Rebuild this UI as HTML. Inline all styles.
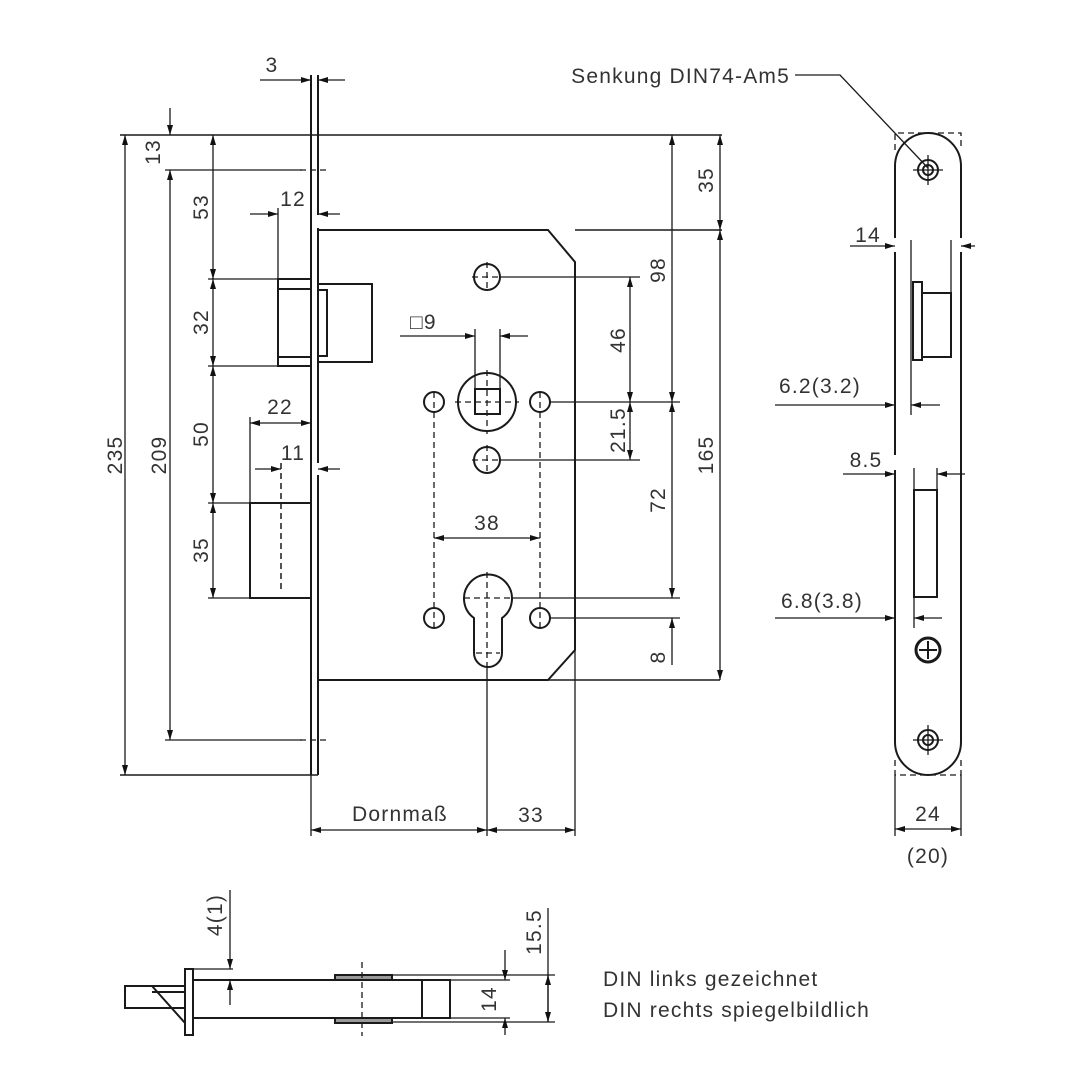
<!DOCTYPE html>
<html><head><meta charset="utf-8"><style>
html,body{margin:0;padding:0;background:#fff}
svg{display:block}
text{font-family:"Liberation Sans",sans-serif;fill:#333;font-size:21px;letter-spacing:1.2px}
</style></head><body>
<svg width="1080" height="1080" viewBox="0 0 1080 1080" xmlns="http://www.w3.org/2000/svg">
<defs>
<marker id="a" viewBox="0 0 10 6" refX="10" refY="3" markerWidth="10" markerHeight="6" markerUnits="userSpaceOnUse" orient="auto-start-reverse"><path d="M0,0L10,3L0,6z" fill="#111"/></marker>
</defs>
<g stroke="#1a1a1a" fill="none" stroke-width="2">
<line x1="311" y1="75" x2="311" y2="775"/>
<line x1="318" y1="75" x2="318" y2="215"/>
<line x1="318" y1="228" x2="318" y2="463"/>
<line x1="318" y1="475" x2="318" y2="775"/>
<line x1="120" y1="135" x2="722" y2="135" stroke-width="1.5"/>
<line x1="120" y1="775" x2="318" y2="775" stroke-width="1.5"/>
<path d="M318,230 H548 L575,262 V650 L548,680 H318"/>
<line x1="548" y1="680" x2="720" y2="680" stroke-width="1.5"/>
<line x1="575" y1="230" x2="722" y2="230" stroke-width="1.5"/>
<rect x="278" y="279" width="33" height="87"/>
<line x1="278" y1="289" x2="311" y2="289"/>
<line x1="278" y1="357" x2="311" y2="357"/>
<rect x="318" y="284" width="54" height="78"/>
<rect x="318" y="290" width="9" height="66"/>
<rect x="250" y="503" width="61" height="95"/>
<line x1="281" y1="463" x2="281" y2="593" stroke-dasharray="6,4" stroke-width="1.5"/>
<circle cx="487" cy="277" r="13"/>
<circle cx="487" cy="402" r="29"/>
<rect x="475" y="389" width="25" height="25"/>
<circle cx="434" cy="402" r="10"/>
<circle cx="540" cy="402" r="10"/>
<circle cx="487" cy="460" r="13"/>
<circle cx="434" cy="618" r="10"/>
<circle cx="540" cy="618" r="10"/>
<path d="M474,618 A24,24 0 1 1 502,618 V653 A14,14 0 0 1 474,653 Z"/>
</g>
<g stroke="#1a1a1a" fill="none" stroke-width="1.3" stroke-dasharray="6,4">
<line x1="487" y1="262" x2="487" y2="292"/><line x1="472" y1="277" x2="502" y2="277"/>
<line x1="487" y1="370" x2="487" y2="434"/><line x1="455" y1="402" x2="519" y2="402"/>
<line x1="487" y1="445" x2="487" y2="475"/><line x1="472" y1="460" x2="502" y2="460"/>
<line x1="434" y1="392" x2="434" y2="630"/><line x1="540" y1="392" x2="540" y2="630"/>
<line x1="487" y1="572" x2="487" y2="667"/><line x1="464" y1="598" x2="512" y2="598"/>
<line x1="476" y1="653" x2="500" y2="653"/>
<line x1="300" y1="170" x2="330" y2="170"/><line x1="300" y1="740" x2="330" y2="740"/>
</g>
<g stroke="#1a1a1a" fill="none" stroke-width="1.3">
<line x1="125" y1="135" x2="125" y2="775" marker-start="url(#a)" marker-end="url(#a)"/>
<line x1="170" y1="108" x2="170" y2="135" marker-end="url(#a)"/>
<line x1="170" y1="170" x2="170" y2="740" marker-start="url(#a)" marker-end="url(#a)"/>
<line x1="165" y1="170" x2="302" y2="170"/><line x1="165" y1="740" x2="302" y2="740"/>
<line x1="213" y1="135" x2="213" y2="279" marker-start="url(#a)" marker-end="url(#a)"/>
<line x1="213" y1="279" x2="213" y2="366" marker-start="url(#a)" marker-end="url(#a)"/>
<line x1="213" y1="366" x2="213" y2="503" marker-start="url(#a)" marker-end="url(#a)"/>
<line x1="213" y1="503" x2="213" y2="598" marker-start="url(#a)" marker-end="url(#a)"/>
<line x1="208" y1="279" x2="278" y2="279"/><line x1="208" y1="366" x2="278" y2="366"/>
<line x1="208" y1="503" x2="250" y2="503"/><line x1="208" y1="598" x2="250" y2="598"/>
<line x1="260" y1="80" x2="311" y2="80" marker-end="url(#a)"/><line x1="345" y1="80" x2="318" y2="80" marker-end="url(#a)"/>
<line x1="278" y1="208" x2="278" y2="279"/>
<line x1="250" y1="214" x2="278" y2="214" marker-end="url(#a)"/><line x1="340" y1="214" x2="318" y2="214" marker-end="url(#a)"/>
<line x1="250" y1="417" x2="250" y2="503"/>
<line x1="250" y1="423" x2="311" y2="423" marker-start="url(#a)" marker-end="url(#a)"/>
<line x1="255" y1="469" x2="281" y2="469" marker-end="url(#a)"/><line x1="340" y1="469" x2="318" y2="469" marker-end="url(#a)"/>
<line x1="475" y1="329" x2="475" y2="389"/><line x1="500" y1="329" x2="500" y2="389"/>
<line x1="400" y1="336" x2="475" y2="336" marker-end="url(#a)"/><line x1="528" y1="336" x2="500" y2="336" marker-end="url(#a)"/>
<line x1="434" y1="538" x2="540" y2="538" marker-start="url(#a)" marker-end="url(#a)"/>
<line x1="311" y1="775" x2="311" y2="836"/><line x1="487" y1="667" x2="487" y2="836"/><line x1="575" y1="650" x2="575" y2="836"/>
<line x1="311" y1="830" x2="487" y2="830" marker-start="url(#a)" marker-end="url(#a)"/>
<line x1="487" y1="830" x2="575" y2="830" marker-start="url(#a)" marker-end="url(#a)"/>
<line x1="500" y1="277" x2="640" y2="277"/>
<line x1="550" y1="402" x2="680" y2="402"/>
<line x1="500" y1="460" x2="640" y2="460"/>
<line x1="512" y1="598" x2="680" y2="598"/>
<line x1="550" y1="618" x2="680" y2="618"/>
<line x1="630" y1="277" x2="630" y2="402" marker-start="url(#a)" marker-end="url(#a)"/>
<line x1="630" y1="402" x2="630" y2="460" marker-start="url(#a)" marker-end="url(#a)"/>
<line x1="672" y1="135" x2="672" y2="402" marker-start="url(#a)" marker-end="url(#a)"/>
<line x1="672" y1="402" x2="672" y2="598" marker-start="url(#a)" marker-end="url(#a)"/>
<line x1="672" y1="665" x2="672" y2="618" marker-end="url(#a)"/>
<line x1="720" y1="135" x2="720" y2="230" marker-start="url(#a)" marker-end="url(#a)"/>
<line x1="720" y1="230" x2="720" y2="680" marker-start="url(#a)" marker-end="url(#a)"/>
</g>
<g stroke="#1a1a1a" fill="none" stroke-width="2">
<path d="M895,238 V166 A33,33 0 0 1 961,166 V238"/>
<line x1="895" y1="252" x2="895" y2="455"/>
<line x1="961" y1="252" x2="961" y2="742"/>
<path d="M895,470 V742 A33,33 0 0 0 961,742"/>
<rect x="913" y="282" width="9" height="78"/>
<rect x="922" y="293" width="29" height="64"/>
<rect x="914" y="490" width="23" height="107"/>
<circle cx="928" cy="170" r="10"/><circle cx="928" cy="170" r="5"/>
<circle cx="928" cy="740" r="10"/><circle cx="928" cy="740" r="5"/>
<circle cx="928" cy="650" r="12" stroke-width="3"/>
</g>
<g stroke="#1a1a1a" fill="none" stroke-width="1.3">
<path d="M895,150 V133 H961 V150" stroke-dasharray="6,4"/>
<path d="M895,760 V775 H961 V760" stroke-dasharray="6,4"/>
<line x1="913" y1="170" x2="943" y2="170"/><line x1="928" y1="155" x2="928" y2="185"/>
<line x1="913" y1="740" x2="943" y2="740"/><line x1="928" y1="725" x2="928" y2="755"/>
<line x1="919" y1="650" x2="937" y2="650" stroke-width="2"/><line x1="928" y1="641" x2="928" y2="659" stroke-width="2"/>
<path d="M795,75 H840 L928,168"/>
<line x1="911" y1="240" x2="911" y2="415"/><line x1="951" y1="240" x2="951" y2="293"/>
<line x1="850" y1="246" x2="895" y2="246" marker-end="url(#a)"/><line x1="975" y1="246" x2="961" y2="246" marker-end="url(#a)"/>
<line x1="775" y1="405" x2="895" y2="405" marker-end="url(#a)"/><line x1="940" y1="405" x2="911" y2="405" marker-end="url(#a)"/>
<line x1="914" y1="468" x2="914" y2="628"/><line x1="937" y1="468" x2="937" y2="490"/>
<line x1="843" y1="474" x2="895" y2="474" marker-end="url(#a)"/><line x1="965" y1="474" x2="937" y2="474" marker-end="url(#a)"/>
<line x1="775" y1="618" x2="895" y2="618" marker-end="url(#a)"/><line x1="942" y1="618" x2="914" y2="618" marker-end="url(#a)"/>
<line x1="895" y1="775" x2="895" y2="836"/><line x1="961" y1="775" x2="961" y2="836"/>
<line x1="895" y1="829" x2="961" y2="829" marker-start="url(#a)" marker-end="url(#a)"/>
</g>
<g stroke="#1a1a1a" fill="none" stroke-width="2">
<rect x="185" y="969" width="8" height="66"/>
<rect x="125" y="986" width="60" height="22"/>
<line x1="152" y1="986" x2="185" y2="986"/><line x1="152" y1="992" x2="185" y2="992"/>
<line x1="152" y1="986" x2="185" y2="1023"/>
<line x1="193" y1="980" x2="450" y2="980"/><line x1="193" y1="1018" x2="450" y2="1018"/>
<rect x="335" y="975" width="57" height="5" fill="#999"/>
<rect x="335" y="1018" width="57" height="5" fill="#999"/>
<rect x="422" y="980" width="28" height="38"/>
</g>
<g stroke="#1a1a1a" fill="none" stroke-width="1.3">
<line x1="362" y1="962" x2="362" y2="1036" stroke-dasharray="6,4"/>
<line x1="193" y1="969" x2="233" y2="969"/>
<line x1="230" y1="890" x2="230" y2="969" marker-end="url(#a)"/>
<line x1="230" y1="1005" x2="230" y2="980" marker-end="url(#a)"/>
<line x1="392" y1="975" x2="555" y2="975"/><line x1="392" y1="1022" x2="555" y2="1022"/>
<line x1="450" y1="980" x2="510" y2="980"/><line x1="450" y1="1018" x2="510" y2="1018"/>
<line x1="505" y1="950" x2="505" y2="980" marker-end="url(#a)"/>
<line x1="505" y1="1035" x2="505" y2="1018" marker-end="url(#a)"/>
<line x1="548" y1="908" x2="548" y2="1022"/>
<line x1="548" y1="975" x2="548" y2="1022" marker-start="url(#a)" marker-end="url(#a)"/>
</g>
<text x="272" y="72" text-anchor="middle">3</text>
<text x="293" y="206" text-anchor="middle">12</text>
<text x="280" y="414" text-anchor="middle">22</text>
<text x="293" y="460" text-anchor="middle">11</text>
<text x="487" y="530" text-anchor="middle">38</text>
<text x="400" y="821" text-anchor="middle">Dornmaß</text>
<text x="531" y="822" text-anchor="middle">33</text>
<text x="410" y="329">□9</text>
<text transform="translate(122,455) rotate(-90)" text-anchor="middle">235</text>
<text transform="translate(160,152) rotate(-90)" text-anchor="middle">13</text>
<text transform="translate(166,455) rotate(-90)" text-anchor="middle">209</text>
<text transform="translate(208,207) rotate(-90)" text-anchor="middle">53</text>
<text transform="translate(208,322) rotate(-90)" text-anchor="middle">32</text>
<text transform="translate(208,434) rotate(-90)" text-anchor="middle">50</text>
<text transform="translate(208,550) rotate(-90)" text-anchor="middle">35</text>
<text transform="translate(625,340) rotate(-90)" text-anchor="middle">46</text>
<text transform="translate(625,430) rotate(-90)" text-anchor="middle">21.5</text>
<text transform="translate(665,270) rotate(-90)" text-anchor="middle">98</text>
<text transform="translate(665,500) rotate(-90)" text-anchor="middle">72</text>
<text transform="translate(665,657) rotate(-90)" text-anchor="middle">8</text>
<text transform="translate(713,180) rotate(-90)" text-anchor="middle">35</text>
<text transform="translate(713,455) rotate(-90)" text-anchor="middle">165</text>
<text x="790" y="83" text-anchor="end">Senkung DIN74-Am5</text>
<text x="868" y="242" text-anchor="middle">14</text>
<text x="820" y="393" text-anchor="middle">6.2(3.2)</text>
<text x="866" y="467" text-anchor="middle">8.5</text>
<text x="822" y="608" text-anchor="middle">6.8(3.8)</text>
<text x="928" y="821" text-anchor="middle">24</text>
<text x="928" y="863" text-anchor="middle">(20)</text>
<text transform="translate(222,915) rotate(-90)" text-anchor="middle">4(1)</text>
<text transform="translate(496,999) rotate(-90)" text-anchor="middle">14</text>
<text transform="translate(541,932) rotate(-90)" text-anchor="middle">15.5</text>
<text x="603" y="986">DIN links gezeichnet</text>
<text x="603" y="1017">DIN rechts spiegelbildlich</text>
</svg>
</body></html>
